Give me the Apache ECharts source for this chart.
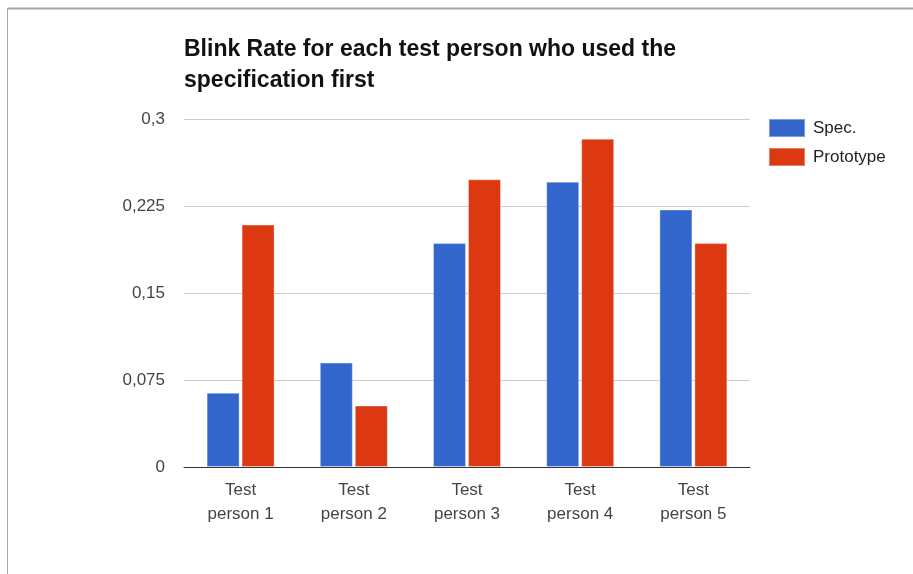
<!DOCTYPE html>
<html>
<head>
<meta charset="utf-8">
<script src="https://cdn.jsdelivr.net/npm/echarts@6/dist/echarts.min.js"></script>
<style>
  html, body { margin: 0; padding: 0; background: #fff; }
  #chart { width: 913px; height: 574px; }
</style>
</head>
<body>
<div id="chart"></div>
<script>
// Blink rate per test person (group that used the specification first)
const categories = ['Test\nperson 1', 'Test\nperson 2', 'Test\nperson 3', 'Test\nperson 4', 'Test\nperson 5'];
const specValues = [0.064, 0.090, 0.193, 0.246, 0.222];
const prototypeValues = [0.209, 0.053, 0.248, 0.283, 0.193];
const yTickLabels = ['0', '0,075', '0,15', '0,225', '0,3'];

const chart = echarts.init(document.getElementById('chart'), null, { renderer: 'canvas' });
const font = '"Liberation Sans", Arial, sans-serif';

chart.setOption({
  animation: false,
  backgroundColor: '#ffffff',
  title: {
    text: 'Blink Rate for each test person who used the\nspecification first',
    left: 179,
    top: 29,
    textStyle: { fontFamily: font, fontSize: 23, fontWeight: 'bold', color: '#111', lineHeight: 31 }
  },
  legend: {
    orient: 'vertical',
    left: 763,
    top: 113,
    itemWidth: 36,
    itemHeight: 18,
    itemGap: 9,
    icon: 'rect',
    textStyle: { fontFamily: font, fontSize: 17, color: '#222', padding: [0, 0, 0, 3] },
    data: ['Spec.', 'Prototype']
  },
  grid: { left: 184, right: 163, top: 119, bottom: 107 },
  xAxis: {
    type: 'category',
    data: categories,
    axisTick: { show: false },
    axisLine: { lineStyle: { color: '#333', width: 1 } },
    axisLabel: { fontFamily: font, fontSize: 17, color: '#444', lineHeight: 24, margin: 11 }
  },
  yAxis: {
    type: 'value',
    min: 0,
    max: 0.3,
    interval: 0.075,
    axisLine: { show: false },
    axisTick: { show: false },
    splitLine: { lineStyle: { color: '#cccccc', width: 1 } },
    axisLabel: {
      fontFamily: font, fontSize: 17, color: '#444', margin: 19,
      formatter: (v) => yTickLabels[Math.round(v / 0.075)]
    }
  },
  series: [
    {
      name: 'Spec.',
      type: 'bar',
      data: specValues,
      barWidth: 33,
      barGap: '6%',
      itemStyle: { color: '#3366cc', borderColor: 'rgba(255,255,255,0.35)', borderWidth: 1 }
    },
    {
      name: 'Prototype',
      type: 'bar',
      data: prototypeValues,
      barWidth: 33,
      barGap: '6%',
      itemStyle: { color: '#dc3912', borderColor: 'rgba(255,255,255,0.35)', borderWidth: 1 }
    }
  ],
  graphic: [
    { type: 'line', shape: { x1: 7.5, y1: 8.5, x2: 913, y2: 8.5 }, style: { stroke: '#a8a8a8', lineWidth: 2 }, silent: true },
    { type: 'line', shape: { x1: 7.5, y1: 8, x2: 7.5, y2: 574 }, style: { stroke: '#a8a8a8', lineWidth: 1 }, silent: true }
  ]
});
</script>
</body>
</html>
